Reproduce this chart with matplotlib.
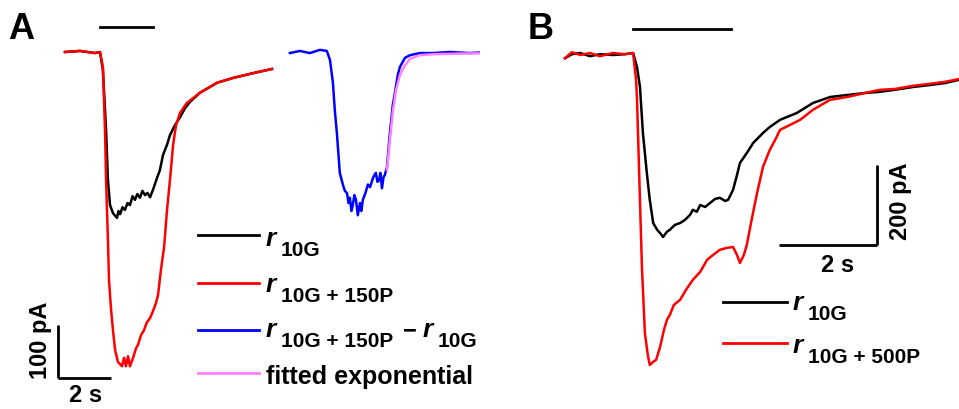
import matplotlib
matplotlib.use("Agg")
import matplotlib.pyplot as plt

plt.rcParams['font.family'] = ['Liberation Sans', 'DejaVu Sans']
plt.rcParams['font.weight'] = 'bold'

# ---- panel A: r10G and r10G+150P responses (time in s, current in pA) ----
a_t_red = [0, 0.57, 1.13, 1.32, 1.43, 1.51, 1.55, 1.62, 1.66, 1.74, 1.81, 1.89, 2.00,
           2.15, 2.23, 2.30, 2.38, 2.45, 2.57, 2.68, 2.75, 2.87, 2.98, 3.09, 3.21,
           3.32, 3.43, 3.51, 3.62, 3.74, 3.85, 3.96, 4.08, 4.19, 4.34, 4.60, 5.09,
           5.74, 6.34, 7.09, 7.81]
a_i_red = [0, 2, -2, 0, -28, -147, -242, -355, -430, -487, -525, -562, -585,
           -593, -577, -593, -574, -593, -577, -559, -553, -534, -525, -510, -502,
           -489, -474, -459, -411, -368, -298, -242, -175, -138, -115, -96, -77,
           -58, -49, -40, -32]

a_t_black = [0, 0.57, 1.13, 1.32, 1.43, 1.55, 1.62, 1.70, 1.81, 1.96, 2.02, 2.08, 2.17,
             2.26, 2.36, 2.45, 2.55, 2.64, 2.73, 2.83, 2.92, 3.02, 3.11, 3.21, 3.32,
             3.47, 3.58, 3.70, 3.85, 3.96, 4.15, 4.34, 4.53, 4.72, 5.09, 5.74, 6.34,
             7.09, 7.81]
a_i_black = [0, 2, -2, 0, -34, -147, -242, -289, -304, -313, -300, -306, -293,
             -298, -285, -289, -272, -279, -268, -275, -262, -270, -266, -274, -260,
             -238, -223, -194, -175, -157, -138, -123, -106, -94, -77, -58, -49,
             -40, -32]

# difference trace r10G+150P - r10G and its exponential fit
a_t_diff = [-0.11, 0.26, 0.64, 1.02, 1.28, 1.40, 1.51, 1.58, 1.66, 1.77, 1.89, 1.96,
            2.04, 2.10, 2.15, 2.21, 2.26, 2.32, 2.38, 2.45, 2.53, 2.58, 2.64, 2.75,
            2.83, 2.91, 3.02, 3.08, 3.13, 3.19, 3.25, 3.30, 3.36, 3.42, 3.47, 3.55,
            3.66, 3.77, 3.85, 3.96, 4.04, 4.23, 4.42, 4.79, 5.28, 5.92, 6.68, 7.43, 7.81]
a_i_diff = [-2, 2, -2, 4, 2, -15, -58, -109, -153, -228, -251, -262,
            -266, -285, -275, -300, -289, -270, -279, -308, -285, -300, -279, -264,
            -250, -255, -238, -232, -228, -245, -242, -228, -257, -236, -232, -217,
            -153, -100, -77, -43, -28, -11, -6, -2, -2, 0, -2, 0, -2]
a_t_fit = [3.55, 3.66, 3.77, 3.89, 4.04, 4.23, 4.42, 4.79, 5.36, 6.30, 7.81]
a_i_fit = [-223, -166, -113, -72, -43, -25, -13, -6, -4, -3, -2]

# ---- panel B: r10G and r10G+500P responses ----
b_t_black = [0, 0.14, 0.31, 0.51, 0.71, 0.98, 1.22, 1.39, 1.47, 1.53, 1.59, 1.67,
             1.73, 1.80, 1.88, 1.94, 2.00, 2.08, 2.14, 2.24, 2.35, 2.45, 2.55, 2.61,
             2.69, 2.76, 2.86, 2.96, 3.06, 3.16, 3.27, 3.33, 3.43, 3.51, 3.57, 3.71,
             3.84, 4.04, 4.18, 4.39, 4.73, 5.06, 5.41, 5.76, 6.12, 6.43, 6.73, 7.10,
             7.45, 7.76, 8.04]
b_i_black = [-8, 2, 5, -3, 2, 0, 2, 5, -30, -80, -195, -295,
             -362, -420, -437, -445, -455, -442, -437, -425, -420, -412, -400, -387,
             -392, -375, -380, -370, -360, -357, -365, -362, -337, -300, -270, -245,
             -220, -195, -180, -162, -145, -120, -105, -100, -95, -92, -87, -80,
             -75, -70, -62]

b_t_red = [0, 0.14, 0.31, 0.51, 0.71, 0.98, 1.22, 1.39, 1.45, 1.47, 1.51, 1.57,
           1.63, 1.69, 1.73, 1.80, 1.86, 1.94, 2.02, 2.08, 2.14, 2.22, 2.35, 2.47,
           2.61, 2.76, 2.90, 3.02, 3.16, 3.31, 3.43, 3.51, 3.57, 3.65, 3.71, 3.82,
           3.92, 4.04, 4.18, 4.29, 4.39, 4.59, 4.80, 5.06, 5.41, 5.76, 6.12, 6.43,
           6.73, 7.10, 7.45, 7.76, 8.04]
b_i_red = [-8, 7, 0, 5, -3, 5, 2, 5, -62, -112, -280, -530,
           -695, -750, -775, -767, -762, -730, -687, -662, -650, -625, -612, -587,
           -562, -542, -512, -500, -487, -482, -480, -500, -520, -500, -475, -405,
           -345, -280, -237, -212, -187, -175, -162, -137, -112, -105, -95, -87,
           -85, -77, -72, -67, -60]

W, H = 959, 409
fig = plt.figure(figsize=(W / 100, H / 100), dpi=100)


def fpos(x, y):
    # pixel position (from top-left) to figure fraction
    return x / W, 1 - y / H


def panel(left_px, right_px, t0_px, base_px, px_per_s, px_per_pA):
    ax = fig.add_axes([left_px / W, 0, (right_px - left_px) / W, 1])
    ax.set_xlim((left_px - t0_px) / px_per_s, (right_px - t0_px) / px_per_s)
    ax.set_ylim(-(H - base_px) / px_per_pA, base_px / px_per_pA)
    ax.axis('off')
    ax.patch.set_alpha(0)
    return ax


lw = 1.8

# panel A
axA = panel(0, 480, 65, 52, 26.5, 0.53)
axA.plot(a_t_black, a_i_black, color='black', lw=lw)
axA.plot(a_t_red, a_i_red, color='#ff0000', lw=lw)
diff_offset = 8.6
axA.plot([t + diff_offset for t in a_t_diff], a_i_diff, color='#0000ff', lw=lw)
axA.plot([t + diff_offset for t in a_t_fit], a_i_fit, color='#ff80ff', lw=lw)
axA.plot([1.32, 3.32], [47, 47], color='black', lw=2)
axA.plot([-0.26, 1.74], [-615, -615], color='black', lw=2, solid_capstyle='butt')
axA.plot([-0.26, -0.26], [-615, -515], color='black', lw=2, solid_capstyle='butt')

# panel B
axB = panel(480, 959, 565, 55, 49, 0.4)
axB.plot(b_t_black, b_i_black, color='black', lw=lw)
axB.plot(b_t_red, b_i_red, color='#ff0000', lw=lw)
axB.plot([1.39, 3.39], [65, 65], color='black', lw=2)
axB.plot([4.37, 6.37], [-475, -475], color='black', lw=2, solid_capstyle='butt')
axB.plot([6.37, 6.37], [-475, -275], color='black', lw=2, solid_capstyle='butt')

# panel letters and scale bar labels
fig.text(*fpos(8, 39), 'A', fontsize=26, fontweight='bold', va='baseline')
fig.text(*fpos(528, 39), 'B', fontsize=26, fontweight='bold', va='baseline')
fig.text(*fpos(40, 340), '100 pA', fontsize=17, fontweight='bold', rotation=90,
         ha='center', va='center')
fig.text(*fpos(86, 395), '2 s', fontsize=17, fontweight='bold', ha='center', va='center')
fig.text(*fpos(901, 201), '200 pA', fontsize=17, fontweight='bold', rotation=90,
         ha='center', va='center')
fig.text(*fpos(838, 265), '2 s', fontsize=17, fontweight='bold', ha='center', va='center')


def rlabel(x, y, sub):
    # italic r with a bold subscript, y is the baseline of the r
    fig.text(*fpos(x, y), 'r', fontsize=19, fontweight='bold', style='italic',
             va='baseline')
    fig.text(*fpos(x + 15, y + 10), sub, fontsize=15, fontweight='bold', va='baseline')


def legend_line(x0, x1, y, color):
    fig.add_artist(plt.Line2D([x0 / W, x1 / W], [1 - y / H, 1 - y / H], color=color, lw=2))


legend_line(198, 259, 235, 'black')
rlabel(266, 246, '10G')
legend_line(198, 259, 283, '#ff0000')
rlabel(266, 292, '10G + 150P')
legend_line(198, 259, 330, '#0000ff')
rlabel(266, 337, '10G + 150P')
fig.text(*fpos(403, 337), '\u2212', fontsize=17, fontweight='bold', va='baseline')
rlabel(423, 337, '10G')
legend_line(198, 259, 373, '#ff80ff')
fig.text(*fpos(266, 384), 'fitted exponential', fontsize=18, fontweight='bold',
         va='baseline')

legend_line(723, 787, 302, 'black')
rlabel(793, 310, '10G')
legend_line(723, 787, 343, '#ff0000')
rlabel(793, 353, '10G + 500P')

fig.savefig('out.png', dpi=100)
